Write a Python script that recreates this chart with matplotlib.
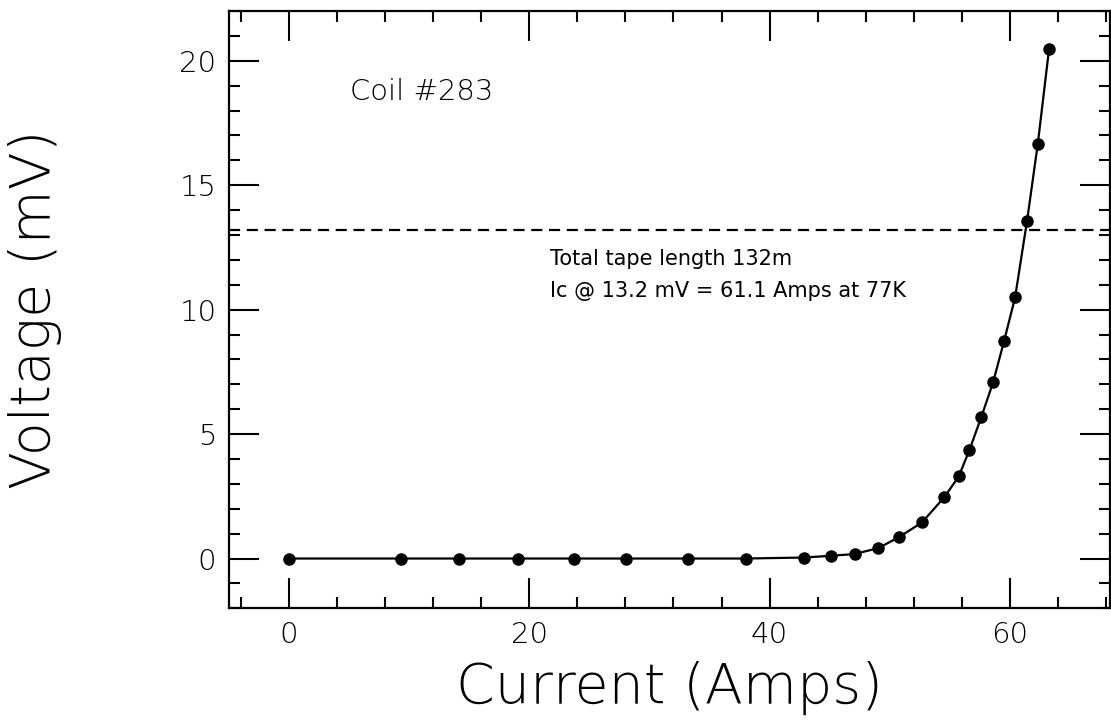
import matplotlib
matplotlib.use("Agg")
from matplotlib import pyplot as plt
from matplotlib.ticker import MultipleLocator

current = [0, 9.31, 14.13, 19.04, 23.72, 28.03, 33.17, 38.03,
           42.86, 45.08, 47.08, 49.06, 50.81, 52.69, 54.56, 55.75,
           56.64, 57.64, 58.61, 59.53, 60.44, 61.44, 62.33, 63.27]
voltage = [0, 0, 0, 0, 0, 0, 0, 0,
           0.04, 0.11, 0.18, 0.42, 0.87, 1.45, 2.47, 3.30,
           4.36, 5.70, 7.08, 8.75, 10.49, 13.58, 16.66, 20.48]
critere = 13.2  # seuil en mV

plt.rcParams['font.family'] = ['DejaVu Sans']
fig = plt.figure(figsize=(11.11, 7.21), dpi=100)
ax = fig.add_axes([229 / 1111, 1 - 608.3 / 721, (1109.5 - 229) / 1111, (608.3 - 11) / 721])

ax.plot(current, voltage, color='black', lw=1.6, marker='o', ms=8, zorder=3)
ax.axhline(critere, color='black', lw=1.6, dashes=(5, 3))

ax.set_xlim(-5, 68.3)
ax.set_ylim(-2, 22)
ax.xaxis.set_major_locator(MultipleLocator(20))
ax.xaxis.set_minor_locator(MultipleLocator(4))
ax.yaxis.set_major_locator(MultipleLocator(5))
ax.yaxis.set_minor_locator(MultipleLocator(1))
ax.tick_params(which='both', direction='in', top=True, right=True, width=1.5, colors='black')
ax.tick_params(which='major', length=21.5, labelsize=21, pad=9)
ax.tick_params(which='minor', length=8)
for lab in ax.get_xticklabels() + ax.get_yticklabels():
    lab.set_fontweight('light')
for s in ax.spines.values():
    s.set_linewidth(1.6)

ax.set_xlabel("Current (Amps)", fontsize=40, fontweight='light')
ax.set_ylabel("Voltage (mV)", fontsize=40, fontweight='light')
ax.xaxis.label.set_va('center')
ax.yaxis.label.set_va('center')
ax.xaxis.set_label_coords(0.5, -0.134)
ax.yaxis.set_label_coords(-0.22, 0.5)

ax.text(5.07, 18.44, "Coil #283", fontsize=21, fontweight='light', va='baseline')
ax.text(21.7, 11.79, "Total tape length 132m", fontsize=15, va='baseline')
ax.text(21.7, 10.51, "Ic @ 13.2 mV = 61.1 Amps at 77K", fontsize=15, va='baseline')

fig.savefig("out.png", dpi=100)
